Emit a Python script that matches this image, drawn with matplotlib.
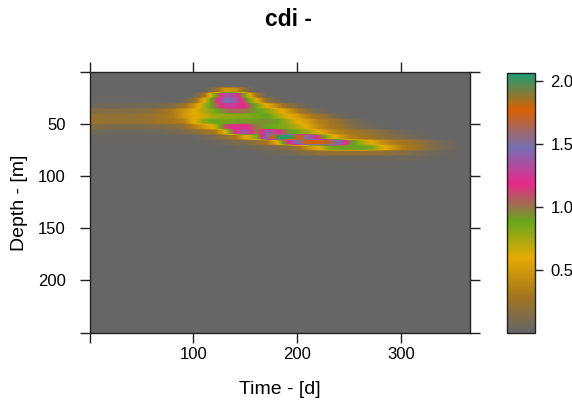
import numpy as np
import matplotlib
matplotlib.use("Agg")
import matplotlib.pyplot as plt
from matplotlib.colors import LinearSegmentedColormap

plt.rcParams['font.family'] = ['Liberation Sans', 'DejaVu Sans']

title = "cdi -"
xlabel = "Time - [d]"
ylabel = "Depth - [m]"
x_ticks = [0, 100, 200, 300]
x_ticklabels = ["", "100", "200", "300"]
y_ticks = [0, 50, 100, 150, 200, 250]
y_ticklabels = ["", "50", "100", "150", "200", ""]
cbar_ticks = [0.5, 1.0, 1.5, 2.0]
palette = ["#666666", "#A6761D", "#E6AB02", "#66A61E", "#E7298A", "#7570B3", "#D95F02", "#1B9E77"]

time_d = list(range(0, 370, 10))
depth_m = [12.5, 17.5, 22.5, 27.5, 32.5, 37.5, 42.5, 47.5, 52.5, 57.5, 62.5, 67.5, 72.5, 77.5, 82.5, 87.5]

#        0   10   20   30   40   50   60   70   80   90   100  110  120  130  140  150  160  170  180  190  200  210  220  230  240  250  260  270  280  290  300  310  320  330  340  350  360
d12 = [0]*37
d17 = [0,   0,   0,   0,   0,   0,   0,   0,   0,   0,   0,   0,   .18, .50, .45, .14, 0,   0,   0,   0,   0,   0,   0,   0,   0,   0,   0,   0,   0,   0,   0,   0,   0,   0,   0,   0,   0]
d22 = [0,   0,   0,   0,   0,   0,   0,   0,   0,   0,   .02, .30, .85, 1.35,1.3, .80, .25, .02, 0,   0,   0,   0,   0,   0,   0,   0,   0,   0,   0,   0,   0,   0,   0,   0,   0,   0,   0]
d27 = [0,   0,   0,   0,   0,   0,   0,   0,   0,   .03, .20, .60, 1.05,1.5, 1.4, 1.0, .60, .22, .04, 0,   0,   0,   0,   0,   0,   0,   0,   0,   0,   0,   0,   0,   0,   0,   0,   0,   0]
d32 = [.05, .05, .05, .05, .06, .06, .07, .09, .14, .25, .45, .75, 1.0, 1.25,1.25,1.15,.85, .60, .40, .20, .08, .02, 0,   0,   0,   0,   0,   0,   0,   0,   0,   0,   0,   0,   0,   0,   0]
d37 = [.14, .14, .13, .14, .14, .15, .18, .25, .33, .45, .60, .72, .85, 1.0, 1.05,1.0, .90, .80, .65, .50, .30, .15, .05, 0,   0,   0,   0,   0,   0,   0,   0,   0,   0,   0,   0,   0,   0]
d42 = [.22, .22, .20, .21, .20, .22, .24, .28, .33, .48, .58, .66, .75, .78, .80, .82, .85, .90, .75, .60, .50, .35, .25, .15, .05, .02, 0,   0,   0,   0,   0,   0,   0,   0,   0,   0,   0]
d47 = [.24, .23, .21, .22, .21, .22, .24, .28, .30, .36, .60, .80, .90, .85, .90, .92, .92, .95, .90, .75, .60, .50, .35, .30, .20, .10, .05, .02, 0,   0,   0,   0,   0,   0,   0,   0,   0]
d52 = [.12, .12, .11, .11, .10, .11, .12, .12, .14, .20, .35, .50, .65, 1.1, 1.2, 1.2, 1.0, .90, .85, .80, .70, .55, .40, .30, .25, .15, .08, .04, .02, 0,   0,   0,   0,   0,   0,   0,   0]
d57 = [.05, .05, .04, .04, .04, .04, .05, .05, .07, .10, .15, .25, .30, .60, 1.2, 1.4, 1.0, 1.4, 1.25,.95, .85, .75, .60, .45, .35, .30, .25, .20, .15, .10, .05, .03, 0,   0,   0,   0,   0]
d62 = [.02, .02, .02, .01, .01, .01, .01, .01, .02, .02, .02, .05, .10, .20, .30, .60, .80, 1.5, 2.0, 2.05,1.8, 1.45,1.1, .70, .50, .35, .30, .25, .20, .15, .10, .06, .03, 0,   0,   0,   0]
d67 = [0,   0,   0,   0,   0,   0,   0,   0,   0,   0,   .01, .02, .03, .05, .10, .12, .20, .30, .60, 1.15,1.5, 1.8, 1.75,1.7, 1.45,1.0, .75, .60, .45, .35, .30, .25, .18, .10, .05, .02, 0]
d72 = [0,   0,   0,   0,   0,   0,   0,   0,   0,   0,   0,   0,   0,   .01, .03, .04, .06, .08, .10, .15, .25, .45, .60, .85, .90, .90, .90, .85, .65, .50, .35, .28, .20, .12, .07, .03, .01]
d77 = [0,   0,   0,   0,   0,   0,   0,   0,   0,   0,   0,   0,   0,   0,   0,   0,   .01, .03, .05, .07, .10, .15, .18, .20, .20, .20, .20, .20, .20, .18, .15, .11, .08, .05, .03, .02, 0]
d82 = [0,   0,   0,   0,   0,   0,   0,   0,   0,   0,   0,   0,   0,   0,   0,   0,   0,   0,   0,   0,   .01, .02, .03, .03, .04, .04, .04, .04, .04, .04, .04, .04, .03, .02, .02, .01, 0]
d87 = [0]*37
cdi_rows = [d12, d17, d22, d27, d32, d37, d42, d47, d52, d57, d62, d67, d72, d77, d82, d87]

W, H = 572, 403
fig = plt.figure(figsize=(W/100, H/100), dpi=100)

def box(l, t, r, b):
    return [l/W, 1-b/H, (r-l)/W, (b-t)/H]

ax = fig.add_axes(box(89.5, 72, 470, 332.5))
cmap = LinearSegmentedColormap.from_list("dark2r", palette, N=256)
dt = time_d[1]-time_d[0]
dz = depth_m[1]-depth_m[0]
# each depth layer is a flat band: repeat rows so smoothing acts mostly along time
grid = np.repeat(np.array(cdi_rows, dtype=float), 3, axis=0)
im = ax.imshow(grid, cmap=cmap, vmin=0, vmax=2.07, aspect='auto',
               interpolation='bilinear', interpolation_stage='data',
               extent=[time_d[0]-dt/2, time_d[-1]+dt/2, depth_m[-1]+dz/2, depth_m[0]-dz/2])
ax.set_facecolor(palette[0])
ax.set_xlim(0, 366)
ax.set_ylim(249, 0)
ax.set_xticks(x_ticks)
ax.set_xticklabels(x_ticklabels)
ax.set_yticks(y_ticks)
ax.set_yticklabels(y_ticklabels)
ax.tick_params(axis='both', which='both', direction='out', length=7, width=1, color='#222222',
               labelsize=12, top=True, right=True)
ax.tick_params(axis='x', pad=3.5)
ax.tick_params(axis='y', pad=10)
for s in ax.spines.values():
    s.set_linewidth(1)
    s.set_color('#222222')
fig.text(280/W, 1-389/H, xlabel, ha='center', va='center', fontsize=14)
fig.text(20/W, 1-203/H, ylabel, ha='center', va='center', rotation=90, fontsize=14)
fig.text(288/W, 1-19/H, title, ha='center', va='center', fontsize=16.5, fontweight='bold')

cax = fig.add_axes(box(507.5, 72.5, 535, 332.5))
cb = fig.colorbar(im, cax=cax)
cb.set_ticks(cbar_ticks)
cb.ax.set_yticklabels(["0.5", "1.0", "1.5", "2.0"])
cb.ax.tick_params(direction='out', length=6, width=1, color='#222222', labelsize=12, pad=5)
cb.outline.set_linewidth(1)
cb.outline.set_edgecolor('#222222')

fig.savefig("out.png", dpi=100)
